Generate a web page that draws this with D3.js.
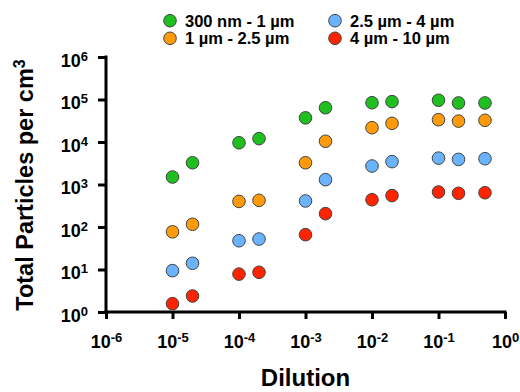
<!DOCTYPE html>
<html>
<head>
<meta charset="utf-8">
<script src="https://cdn.jsdelivr.net/npm/d3@7"></script>
<style>
  body { margin: 0; background: #fff; }
  svg { display: block; font-family: "Liberation Sans", Arial, sans-serif; font-weight: bold; }
  svg text { font-weight: bold; }
</style>
</head>
<body>
<div id="chart"></div>
<script>
// data
const dilution = [1e-5, 2e-5, 1e-4, 2e-4, 1e-3, 2e-3, 1e-2, 2e-2, 1e-1, 2e-1, 5e-1];
const size300to1 = [1500, 3250, 9600, 12000, 37000, 64000, 84000, 89000, 96000, 83000, 83000];
const size1to25 = [77, 116, 400, 424, 3250, 10400, 21700, 27500, 33500, 31000, 32400];
const size25to4 = [9.4, 14, 47.5, 52, 410, 1300, 2720, 3450, 4170, 3900, 4040];
const size4to10 = [1.57, 2.38, 7.8, 8.6, 66, 206, 438, 548, 665, 620, 640];
const seriesNames = ["300 nm - 1 µm", "1 µm - 2.5 µm", "2.5 µm - 4 µm", "4 µm - 10 µm"];
const xTicks = [1e-6, 1e-5, 1e-4, 1e-3, 1e-2, 1e-1, 1];
const yTicks = [1, 10, 100, 1e3, 1e4, 1e5, 1e6];

const colors = ["#1fbf1f", "#ff9a0a", "#6ab4ff", "#ff2400"];
const series = [size300to1, size1to25, size25to4, size4to10].map((vals, i) => ({
  name: seriesNames[i], color: colors[i],
  points: vals.map((v, j) => ({x: dilution[j], y: v}))
}));

const W = 520, H = 392;
const svg = d3.select("#chart").append("svg").attr("width", W).attr("height", H);

const x = d3.scaleLog().domain([1e-6, 1]).range([106, 505]);
const y = d3.scaleLog().domain([1, 1e6]).range([312, 57]);

// superscript tick labels
function powerLabel(sel, d) {
  const e = Math.round(Math.log10(d));
  sel.text(null);
  sel.append("tspan").text("10");
  sel.append("tspan").attr("dy", "-0.45em").style("font-size", "13px").text(e);
}

// X axis
const gx = svg.append("g").attr("transform", "translate(0,312)")
  .call(d3.axisBottom(x).tickValues(xTicks).tickSize(7).tickSizeOuter(0).tickPadding(13));
gx.select(".domain").style("stroke-width", "3px").attr("d", "M104.5,0H506.5");
gx.selectAll(".tick line").style("stroke-width", "3px");
gx.selectAll(".tick text")
  .style("font-size", "18px").style("font-family", "Liberation Sans, Arial, sans-serif")
  .attr("fill", "#000").attr("dy", "0.9em")
  .each(function(d) { powerLabel(d3.select(this), d); });

// Y axis
const gy = svg.append("g").attr("transform", "translate(106,0)")
  .call(d3.axisLeft(y).tickValues(yTicks).tickSize(8).tickSizeOuter(0).tickPadding(10));
gy.select(".domain").style("stroke-width", "3px").attr("d", "M0,55.5V313.5");
gy.selectAll(".tick line").style("stroke-width", "3px");
gy.selectAll(".tick text")
  .style("font-size", "18px").style("font-family", "Liberation Sans, Arial, sans-serif")
  .attr("fill", "#000").attr("dy", "0.5em")
  .each(function(d) { powerLabel(d3.select(this), d); });

// points
series.forEach(s => {
  svg.append("g").selectAll("circle")
    .data(s.points)
    .enter()
    .append("circle")
    .attr("cx", d => x(d.x))
    .attr("cy", d => y(d.y))
    .attr("r", 6.3)
    .attr("fill", s.color)
    .attr("stroke", "#444")
    .attr("stroke-width", 1);
});

// axis titles
svg.append("text")
  .attr("x", x(Math.sqrt(1e-6)))
  .attr("y", 386)
  .attr("text-anchor", "middle")
  .style("font-size", "24px")
  .text("Dilution");

const yt = svg.append("text")
  .attr("transform", "translate(33,185) rotate(-90)")
  .attr("text-anchor", "middle")
  .style("font-size", "23.5px");
yt.append("tspan").text("Total Particles per cm");
yt.append("tspan").attr("dy", "-0.5em").style("font-size", "16px").text("3");

// legend
const legendPos = [[170, 20.7], [170, 38.3], [335, 20.7], [335, 38.3]];
const lg = svg.append("g").selectAll("g")
  .data(series)
  .enter()
  .append("g")
  .attr("transform", (d, i) => `translate(${legendPos[i][0]},${legendPos[i][1]})`);
lg.append("circle").attr("r", 6.3).attr("fill", d => d.color).attr("stroke", "#444").attr("stroke-width", 1);
lg.append("text").attr("x", 15).attr("y", 5.8).style("font-size", "16.5px").text(d => d.name);
</script>
</body>
</html>
